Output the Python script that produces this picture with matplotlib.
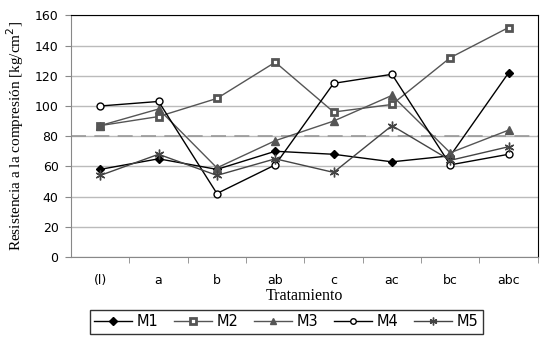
import matplotlib.pyplot as plt

# Data
tratamientos = ['(l)', 'a', 'b', 'ab', 'c', 'ac', 'bc', 'abc']
m1 = [58, 65, 58, 70, 68, 63, 67, 122]
m2 = [87, 93, 105, 129, 96, 101, 132, 152]
m3 = [87, 98, 59, 77, 90, 107, 69, 84]
m4 = [100, 103, 42, 61, 115, 121, 61, 68]
m5 = [54, 68, 54, 65, 56, 87, 64, 73]
limite = 80

x = list(range(len(tratamientos)))

fig = plt.figure(figsize=(5.51, 3.43), dpi=100)
ax = fig.add_axes([0.129, 0.251, 0.847, 0.704])

ax.plot(x, m1, color='black', lw=1, marker='D', ms=4.5, mfc='black', mec='black', label='M1')
ax.plot(x, m2, color='#555555', lw=1, marker='s', ms=5, mfc='white', mec='#555555', mew=2, label='M2')
ax.plot(x, m3, color='#555555', lw=1, marker='^', ms=5.5, mfc='#555555', mec='#555555', label='M3')
ax.plot(x, m4, color='black', lw=1, marker='o', ms=5, mfc='white', mec='black', label='M4')
ax.plot(x, m5, color='#444444', lw=1, marker=(6, 2, 0), ms=7, mec='#444444', mew=1, label='M5')

ax.axhline(limite, color='#999999', lw=1.2, ls=(0, (9, 5)), zorder=1)

ax.set_xlim(-0.5, len(tratamientos) - 0.5)
ax.set_ylim(0, 160)
ax.set_yticks(range(0, 161, 20))
ax.yaxis.grid(True, color='#bbbbbb', lw=1)
ax.set_axisbelow(True)

ax.set_xticks(x)
ax.set_xticklabels(tratamientos)
ax.set_xticks([i + 0.5 for i in x], minor=True)
ax.tick_params(axis='x', which='major', length=0, pad=12)
ax.tick_params(axis='x', which='minor', length=4, color='#888888')
ax.tick_params(axis='y', length=4, color='#888888', pad=5)
for lab in ax.get_xticklabels() + ax.get_yticklabels():
    lab.set_fontfamily('DejaVu Sans')
    lab.set_fontsize(9)

ax.spines['left'].set_color('#888888')
ax.spines['bottom'].set_color('#888888')
ax.spines['top'].set_color('black')
ax.spines['right'].set_color('black')

ax.set_xlabel('Tratamiento', fontfamily='Liberation Serif', fontsize=11.5, labelpad=1)
ax.set_ylabel('Resistencia a la compresión [kg/cm$^2$]', fontfamily='Liberation Serif',
              fontsize=11, labelpad=6)

leg = ax.legend(loc='upper center', bbox_to_anchor=(0.461, -0.19), ncol=5,
                frameon=True, fancybox=False, edgecolor='black', handlelength=2.6,
                columnspacing=1.1, handletextpad=0.3, borderpad=0.3, markerscale=0.8,
                prop={'family': 'DejaVu Sans', 'size': 10.5})
leg.get_frame().set_linewidth(1)

plt.savefig('out.png', dpi=100)
